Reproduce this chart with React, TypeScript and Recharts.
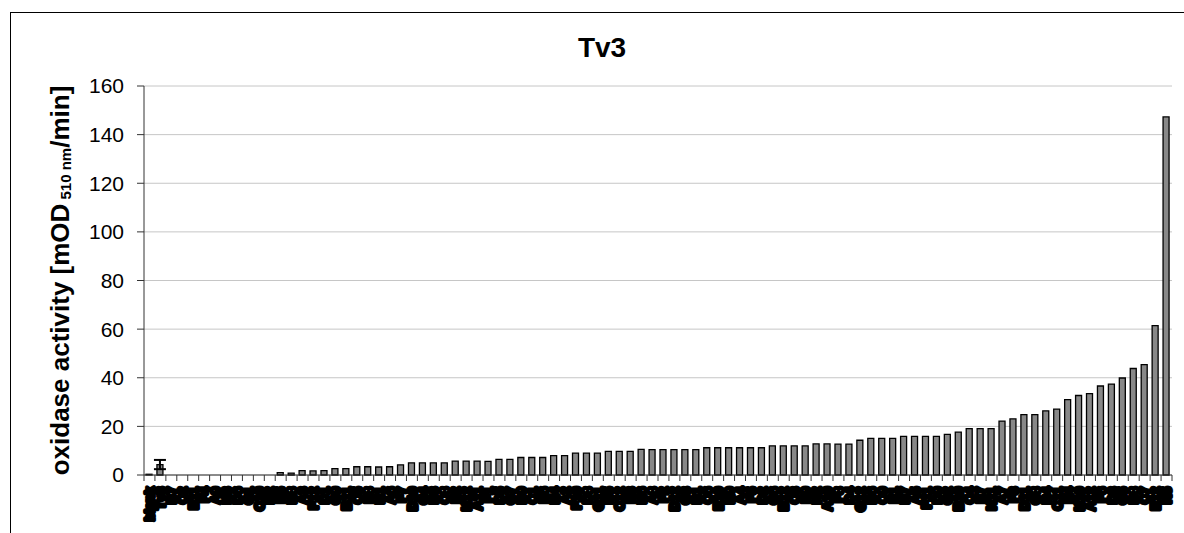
import React from "react";
import { BarChart, Bar, XAxis, YAxis, CartesianGrid, ErrorBar, Label } from "recharts";

const W = 1184;
const H = 533;
const MARGIN = { top: 86, right: 12, bottom: 8, left: 0 };
const Y_AXIS_W = 144;
const X_AXIS_H = 50;
const FONT = "'Liberation Sans', Arial, sans-serif";

// clone names, sorted by activity (the labels overlap into a black band, as in the original)
const clones = [
  "blank", "Tv3",
  "B7", "C2", "E11", "F4", "A9", "H3", "D6", "G1", "C10", "B2",
  "E5", "H8", "A3", "F12", "D1", "G9", "B11", "C5", "E8", "H1",
  "A6", "F7", "D10", "G4", "B3", "C8", "E2", "H12", "A11", "F1",
  "D5", "G7", "B9", "C1", "E6", "H4", "A2", "F10", "D8", "G11",
  "B5", "C12", "E3", "H6", "A8", "F2", "D12", "G3", "B1", "C6",
  "E10", "H9", "A4", "F5", "D2", "G6", "B12", "C3", "E9", "H2",
  "A10", "F8", "D4", "G12", "B6", "C9", "E1", "H7", "A5", "F11",
  "D9", "G2", "B10", "C4", "E7", "H11", "A7", "F3", "D11", "G8",
  "B4", "C11", "E4", "H10", "A12", "F6", "D3", "G5", "B8", "C7",
  "E12", "H5",
];

// oxidase activity, mOD510nm/min
const activity = [
  0.3, 4.3,
  0, 0, 0, 0, 0, 0, 0, 0, 0, 0,
  1.0, 0.8, 1.8, 1.7, 1.8, 2.6, 2.6, 3.4, 3.4, 3.3,
  3.4, 4.2, 5.0, 5.0, 5.0, 5.0, 5.7, 5.7, 5.7, 5.6,
  6.4, 6.4, 7.2, 7.2, 7.2, 8.0, 8.0, 9.0, 9.0, 9.0,
  9.7, 9.7, 9.7, 10.5, 10.4, 10.4, 10.4, 10.4, 10.4, 11.2,
  11.2, 11.2, 11.2, 11.2, 11.2, 12.0, 12.0, 12.0, 12.0, 12.8,
  12.8, 12.7, 12.7, 14.3, 15.1, 15.1, 15.1, 15.9, 15.9, 15.9,
  15.9, 16.7, 17.6, 19.1, 19.1, 19.1, 22.2, 23.1, 24.8, 24.8,
  26.4, 27.1, 31.0, 32.7, 33.5, 36.6, 37.4, 39.9, 43.8, 45.4,
  61.4, 147.3,
];

// standard deviation, only the parent has replicates
const deviation = [0, 1.9];

const yTicks = [0, 20, 40, 60, 80, 100, 120, 140, 160];

const data = clones.map((name, i) => ({
  name,
  value: activity[i],
  err: deviation[i] || null,
}));

const band = (W - MARGIN.left - MARGIN.right - Y_AXIS_W) / clones.length;

const CloneTick = (props: any) => {
  const { x, y, payload, index } = props;
  const half = band / 2;
  const ty = y + 12;
  return (
    <g>
      {index === 0 && (
        <line x1={x - half} x2={x - half} y1={y} y2={y + 6} stroke="#333" />
      )}
      <line x1={x + half} x2={x + half} y1={y} y2={y + 6} stroke="#333" />
      <text
        x={x}
        y={ty}
        transform={`rotate(-90, ${x}, ${ty})`}
        textAnchor="end"
        dy="0.36em"
        fontSize={13}
        fontWeight="bold"
        fontFamily={FONT}
        fill="#000"
        stroke="#000"
        strokeWidth={4}
        strokeLinejoin="round"
      >
        {payload.value}
      </text>
    </g>
  );
};

const AxisTitle = ({ viewBox }: any) => {
  if (!viewBox) return null;
  const cx = viewBox.x + 60;
  const cy = viewBox.y + viewBox.height / 2;
  return (
    <text
      x={cx}
      y={cy}
      transform={`rotate(-90, ${cx}, ${cy})`}
      textAnchor="middle"
      dominantBaseline="central"
      fontFamily={FONT}
      fontWeight="bold"
      fontSize={26}
      fill="#000"
    >
      <tspan>oxidase activity [mOD</tspan>
      <tspan fontSize={15} dy={5}> 510 nm</tspan>
      <tspan dy={-5}>/min]</tspan>
    </text>
  );
};

export default function App() {
  return (
    <div
      style={{
        position: "fixed",
        left: 0,
        top: 0,
        width: W,
        height: H,
        background: "#fff",
        overflow: "hidden",
        fontFamily: FONT,
      }}
    >
      <div
        style={{
          position: "absolute",
          left: 10,
          top: 12,
          width: W,
          height: H,
          border: "1px solid #000",
          boxSizing: "border-box",
        }}
      />
      <div
        style={{
          position: "absolute",
          left: 502,
          top: 34,
          width: 200,
          textAlign: "center",
          fontSize: 28,
          lineHeight: "28px",
          fontWeight: "bold",
          color: "#000",
        }}
      >
        Tv3
      </div>
      <div style={{ position: "absolute", left: 0, top: 0 }}>
        <BarChart width={W} height={H} data={data} margin={MARGIN} barSize={6}>
          <CartesianGrid vertical={false} stroke="#c6c6c6" />
          <XAxis
            dataKey="name"
            interval={0}
            height={X_AXIS_H}
            tickLine={false}
            tickSize={0}
            tickMargin={0}
            tick={<CloneTick />}
            axisLine={{ stroke: "#333" }}
          />
          <YAxis
            width={Y_AXIS_W}
            domain={[0, 160]}
            ticks={yTicks}
            interval={0}
            tickSize={7}
            tickMargin={13}
            tick={{ fontSize: 21, fill: "#000", fontFamily: FONT }}
            axisLine={{ stroke: "#333" }}
            tickLine={{ stroke: "#333" }}
          >
            <Label content={<AxisTitle />} />
          </YAxis>
          <Bar
            dataKey="value"
            fill="#888888"
            stroke="#000"
            strokeWidth={1.3}
            isAnimationActive={false}
          >
            <ErrorBar
              dataKey="err"
              width={6}
              stroke="#000"
              strokeWidth={2}
              isAnimationActive={false}
            />
          </Bar>
        </BarChart>
      </div>
    </div>
  );
}
